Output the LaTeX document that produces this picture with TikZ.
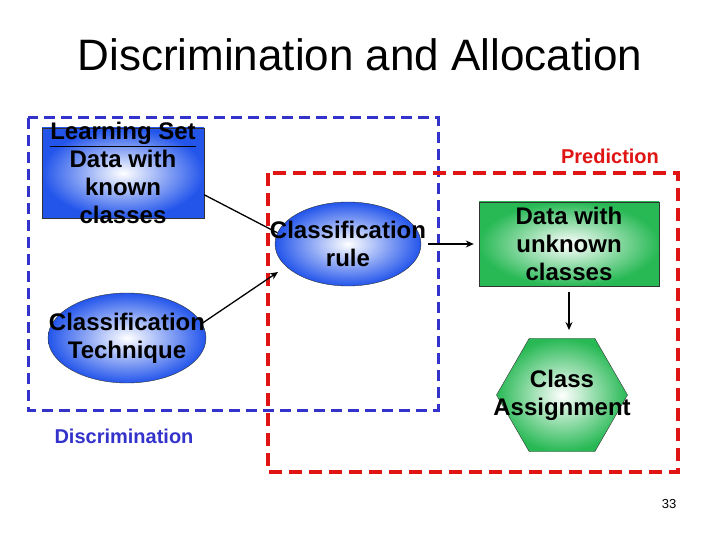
\documentclass[tikz,border=0pt]{standalone}
\usepackage{fontspec}
\setmainfont{Liberation Sans}
\usetikzlibrary{shapes.geometric, arrows.meta}

\definecolor{discblue}{RGB}{51,51,204}
\definecolor{predred}{RGB}{225,20,20}
\definecolor{ballblue}{RGB}{35,85,235}
\definecolor{leafgreen}{RGB}{40,185,85}

\begin{document}
\begin{tikzpicture}[>={Stealth[length=8pt, width=7pt]}, x=1pt, y=-1pt,
  every node/.style={font=\bfseries\fontsize{24}{28}\selectfont, align=center},
  bluefill/.style={draw=black!80, thin, inner sep=0, inner color=white, outer color=ballblue},
  greenfill/.style={draw=black!80, thin, inner sep=0, inner color=white, outer color=leafgreen},
  conn/.style={line width=1.3pt}]
  \useasboundingbox (0,0) rectangle (720,540);
  \fill[white] (0,0) rectangle (720,540);
  \node[font=\fontsize{44}{50}\selectfont] (title) at (360,55) {Discrimination and Allocation};

  % dashed frames
  \draw[discblue, line width=3pt, dash pattern=on 11pt off 6pt] (28,118) rectangle (438,410);
  \draw[predred, line width=4pt, dash pattern=on 13pt off 7pt] (268,173) rectangle (678,472);

  % shapes
  \node[bluefill, minimum width=162pt, minimum height=90pt] (learn) at (123,173) {};
  \node[bluefill, ellipse, minimum width=158pt, minimum height=90pt] (tech) at (127,338) {};
  \node[bluefill, ellipse, minimum width=146pt, minimum height=84pt] (rule) at (348,244) {};
  \node[greenfill, minimum width=180pt, minimum height=84pt] (data) at (569,244) {};
  \node[greenfill, regular polygon, regular polygon sides=6, minimum size=131pt] (assign) at (562,395) {};

  % texts
  \node (learntxt) at (learn) {\underline{Learning Set}\\Data with\\known\\classes};
  \node (techtxt) at (tech) {Classification\\Technique};
  \node (ruletxt) at (rule) {Classification\\rule};
  \node (datatxt) at (data) {Data with\\unknown\\classes};
  \node (assigntxt) at (assign) {Class\\Assignment};
  \node[font=\bfseries\fontsize{20}{24}\selectfont, text=predred] (pred) at (610,156) {Prediction};
  \node[font=\bfseries\fontsize{20}{24}\selectfont, text=discblue] (disc) at (124,436) {Discrimination};
  \node[font=\fontsize{13}{15}\selectfont] (page) at (669,504) {33};

  % connectors
  \coordinate (ruleIn) at (278,272);
  \draw[conn] (learn.-15) -- (rule.171);
  \draw[conn, ->] (tech.11) -- (ruleIn);
  \draw[conn, ->, shorten <=7pt, shorten >=5pt] (rule.east) -- (data.west);
  \draw[conn, ->, shorten <=6pt, shorten >=8pt] (data.south) -- (data.south |- assign.north);
\end{tikzpicture}
\end{document}
